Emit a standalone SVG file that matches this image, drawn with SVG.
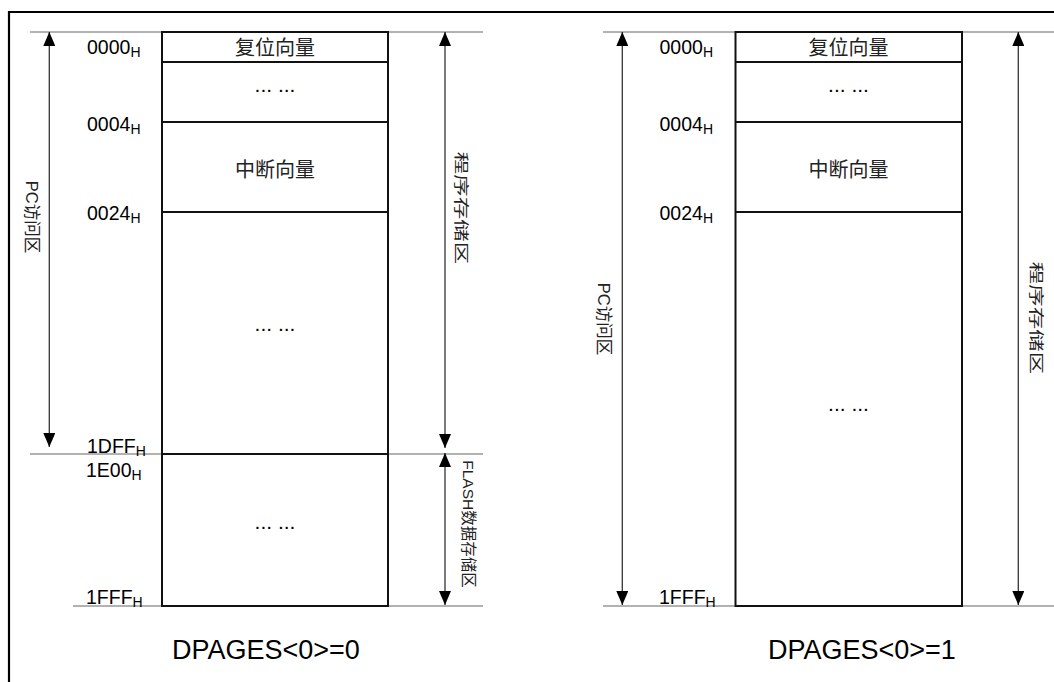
<svg xmlns="http://www.w3.org/2000/svg" width="1054" height="682" viewBox="0 0 1054 682">
<style>
.frame{stroke:#000;stroke-width:2.2;fill:none}
.box{fill:#fff;stroke:#111;stroke-width:2}
.div{stroke:#111;stroke-width:2}
.thin{stroke:#666;stroke-width:1.2}
.arr{stroke:#333;stroke-width:1.3;fill:none;marker-start:url(#ah);marker-end:url(#ah)}
.addr{font-family:"Liberation Sans",Arial,sans-serif;font-size:19.5px;fill:#000}
.sub{font-size:14px}
.cn{font-family:"Noto Sans CJK SC","Liberation Sans",sans-serif;font-size:20px;fill:#222;text-anchor:middle}
.dots{font-family:"Liberation Sans",Arial,sans-serif;font-size:21px;fill:#000;text-anchor:middle}
.vt{font-family:"Liberation Sans","Noto Sans CJK SC",sans-serif;fill:#222;text-anchor:middle}
.cap{font-family:"Liberation Sans",Arial,sans-serif;font-size:27px;fill:#000}
</style>
<defs>
<marker id="ah" viewBox="0 0 14 12" markerWidth="14" markerHeight="12" refX="14" refY="6" orient="auto-start-reverse" markerUnits="userSpaceOnUse">
<path d="M0,0 L14,6 L0,12 z" fill="#000"/>
</marker>
</defs>
<rect width="1054" height="682" fill="#fff"/>
<g id="frame">
<line class="frame" x1="8" y1="12" x2="1054" y2="12"/>
<line class="frame" x1="9" y1="11" x2="9" y2="682"/>
</g>

<g id="guides">
<line class="thin" x1="30" y1="32" x2="483" y2="32"/>
<line class="thin" x1="30" y1="454" x2="483" y2="454"/>
<line class="thin" x1="73" y1="606" x2="483" y2="606"/>
<line class="thin" x1="603" y1="32" x2="1054" y2="32"/>
<line class="thin" x1="603" y1="606" x2="1054" y2="606"/>
</g>

<g id="left-map">
<rect class="box" x="162" y="32" width="226" height="574"/>
<g id="l-reset"><text class="cn" x="275" y="55">复位向量</text></g>
<line class="div" x1="162" y1="62" x2="388" y2="62"/>
<g id="l-dots1"><text class="dots" x="275" y="92">... ...</text></g>
<line class="div" x1="162" y1="122" x2="388" y2="122"/>
<g id="l-int"><text class="cn" x="275" y="177">中断向量</text></g>
<line class="div" x1="162" y1="212" x2="388" y2="212"/>
<g id="l-dots2"><text class="dots" x="275" y="331">... ...</text></g>
<line class="div" x1="162" y1="454" x2="388" y2="454"/>
<g id="l-dots3"><text class="dots" x="275" y="529">... ...</text></g>
</g>

<g id="left-addr">
<text class="addr" x="87" y="54">0000<tspan class="sub" dy="3">H</tspan></text>
<text class="addr" x="87" y="130.5">0004<tspan class="sub" dy="3">H</tspan></text>
<text class="addr" x="87" y="220">0024<tspan class="sub" dy="3">H</tspan></text>
<text class="addr" x="87" y="453">1DFF<tspan class="sub" dy="3">H</tspan></text>
<text class="addr" x="86" y="477">1E00<tspan class="sub" dy="3">H</tspan></text>
<text class="addr" x="86" y="604">1FFF<tspan class="sub" dy="3">H</tspan></text>
</g>

<g id="right-map">
<rect class="box" x="735.5" y="32" width="226.5" height="574"/>
<g id="r-reset"><text class="cn" x="848.5" y="55">复位向量</text></g>
<line class="div" x1="735.5" y1="62" x2="962" y2="62"/>
<g id="r-dots1"><text class="dots" x="848.5" y="92">... ...</text></g>
<line class="div" x1="735.5" y1="122" x2="962" y2="122"/>
<g id="r-int"><text class="cn" x="848.5" y="177">中断向量</text></g>
<line class="div" x1="735.5" y1="212" x2="962" y2="212"/>
<g id="r-dots2"><text class="dots" x="848.5" y="411">... ...</text></g>
</g>

<g id="right-addr">
<text class="addr" x="659.5" y="54">0000<tspan class="sub" dy="3">H</tspan></text>
<text class="addr" x="659.5" y="130.5">0004<tspan class="sub" dy="3">H</tspan></text>
<text class="addr" x="659.5" y="220">0024<tspan class="sub" dy="3">H</tspan></text>
<text class="addr" x="659" y="604">1FFF<tspan class="sub" dy="3">H</tspan></text>
</g>

<g id="connectors">
<line class="arr" x1="49.3" y1="32" x2="49.3" y2="447"/>
<line class="arr" x1="445" y1="32" x2="445" y2="448"/>
<line class="arr" x1="445" y1="453" x2="445" y2="605"/>
<line class="arr" x1="622.3" y1="32" x2="622.3" y2="605"/>
<line class="arr" x1="1018.3" y1="32" x2="1018.3" y2="605"/>
</g>

<g id="range-labels">
<text class="vt" font-size="16.5" transform="translate(25.5,217) rotate(90)">PC访问区</text>
<text class="vt" font-size="14.5" transform="translate(456,208) rotate(90) scale(1.55,1)">程序存储区</text>
<text class="vt" font-size="15.5" transform="translate(462.5,524) rotate(90)">FLASH数据存储区</text>
<text class="vt" font-size="16.5" transform="translate(598,319) rotate(90)">PC访问区</text>
<text class="vt" font-size="14.5" transform="translate(1030.5,318) rotate(90) scale(1.55,1)">程序存储区</text>
</g>

<g id="captions">
<text class="cap" x="172" y="659">DPAGES&lt;0&gt;=0</text>
<text class="cap" x="768" y="659">DPAGES&lt;0&gt;=1</text>
</g>
</svg>
